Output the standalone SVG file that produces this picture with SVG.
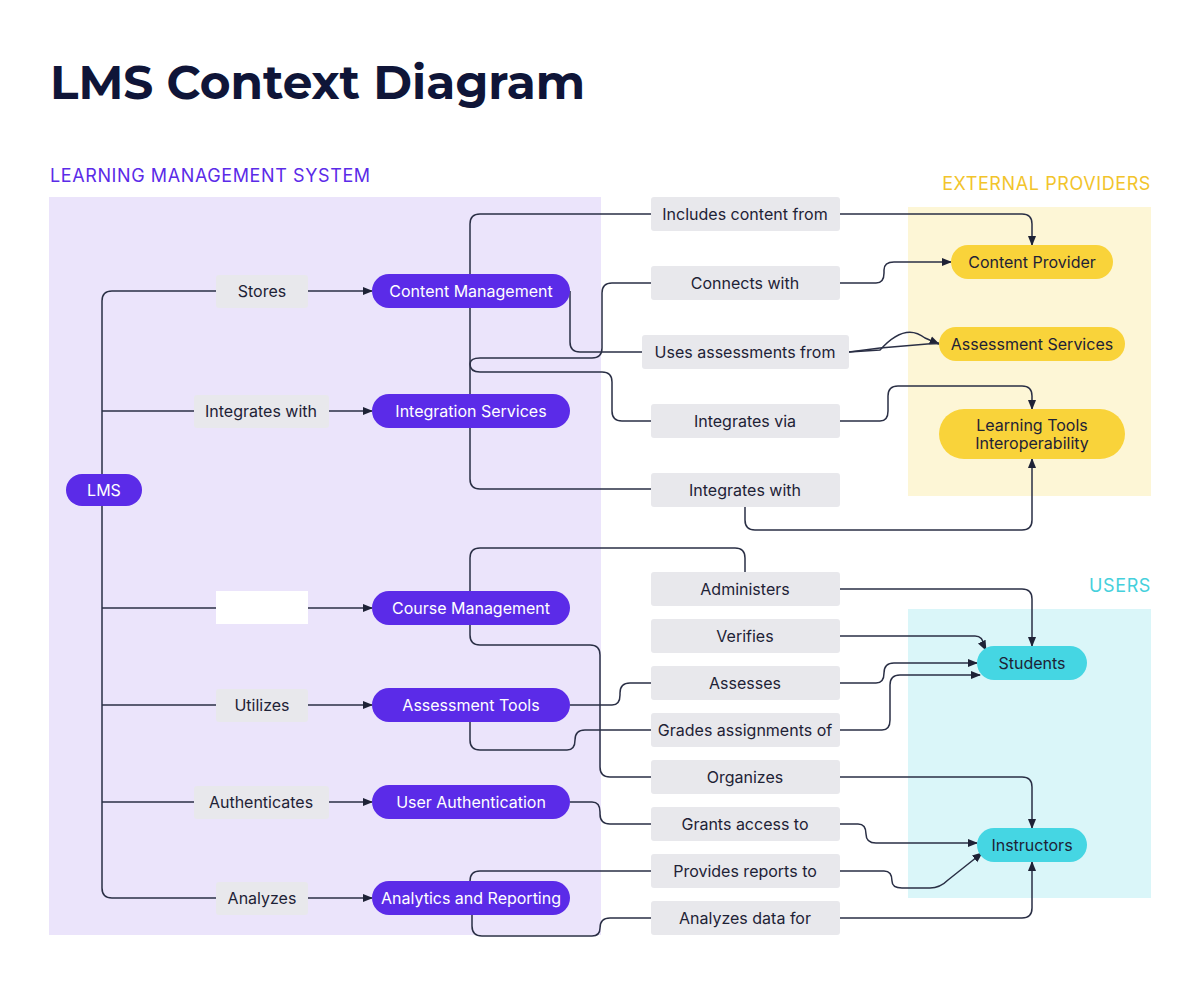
<svg xmlns="http://www.w3.org/2000/svg" width="1200" height="988" viewBox="0 0 1200 988">
<defs>
<marker id="ar" viewBox="0 0 10 10" refX="9" refY="5" markerWidth="7" markerHeight="7" orient="auto-start-reverse"><path d="M0,1 L10,5 L0,9 z" fill="#1e2236"/></marker>
<style>
text{font-family:Inter,"Noto Sans",sans-serif;}
.t{font-size:16px;fill:#1e2236;text-anchor:middle;dominant-baseline:central;}
.w{font-size:16px;fill:#fff;text-anchor:middle;dominant-baseline:central;}
.lb{fill:#e8e8ec;}
.pn{fill:#5b2be8;}
.yn{fill:#f9d33a;}
.cn{fill:#45d6e3;}
.c path{fill:none;stroke:#2a2f45;stroke-width:1.5;stroke-linejoin:round;}
.a{marker-end:url(#ar);}
</style>
</defs>
<rect width="1200" height="988" fill="#fff"/>
<text x="50" y="99" font-size="47" font-weight="700" fill="#0f1538" style="font-family:Montserrat,Inter,sans-serif">LMS Context Diagram</text>
<rect x="49" y="197" width="552" height="738" fill="#ebe4fb"/>
<text x="50" y="182" font-size="18" fill="#5b2be8" letter-spacing="0.6">LEARNING MANAGEMENT SYSTEM</text>
<rect x="908" y="207" width="243" height="289" fill="#fdf6d6"/>
<text x="1151" y="190" font-size="18" fill="#f2c42b" text-anchor="end" letter-spacing="0.6">EXTERNAL PROVIDERS</text>
<rect x="908" y="609" width="243" height="289" fill="#daf6f9"/>
<text x="1151" y="592" font-size="18" fill="#45d0dc" text-anchor="end" letter-spacing="0.6">USERS</text>
<g id="connectors" class="c">
<path d="M102,490 V301 Q102,291 112,291 H216"/>
<path class="a" d="M308,291 H372"/>
<path d="M102,490 V888 Q102,898 112,898 H216"/>
<path d="M102,411 H194"/><path class="a" d="M329,411 H372"/>
<path d="M102,608 H216"/><path class="a" d="M308,608 H372"/>
<path d="M102,705 H216"/><path class="a" d="M308,705 H372"/>
<path d="M102,802 H194"/><path class="a" d="M329,802 H372"/>
<path class="a" d="M308,898 H372"/>
<path d="M470,274 V224 Q470,214 480,214 H651"/>
<path class="a" d="M840,214 H1022 Q1032,214 1032,224 V245"/>
<path d="M470,308 V479 Q470,489 480,489 H651"/>
<path d="M651,283 H612 Q602,283 602,293 V348 Q602,358 592,358 H480 Q470,358 470,364 Q470,372 480,372 H602 Q612,372 612,382 V411 Q612,421 622,421 H651"/>
<path d="M570,291 V342 Q570,352 580,352 H642"/>
<path class="a" d="M840,283 H876 Q884,283 884,273 V270 Q884,262 894,262 H951"/>
<path class="a" d="M849,352 L880,350 Q905,322 925,338 L939,344"/>
<path d="M849,352 L880,348 L939,343"/>
<path class="a" d="M840,421 H880 Q888,421 888,411 V396 Q888,386 898,386 H1022 Q1032,386 1032,396 V409"/>
<path class="a" d="M745,507 V520 Q745,530 755,530 H1022 Q1032,530 1032,520 V459"/>
<path d="M470,591 V558 Q470,548 480,548 H735 Q745,548 745,558 V572"/>
<path d="M470,625 V635 Q470,645 480,645 H590 Q600,645 600,655 V767 Q600,777 610,777 H651"/>
<path class="a" d="M840,589 H1022 Q1032,589 1032,599 V646"/>
<path class="a" d="M840,636 H975 Q983,636 984,646 L986,650"/>
<path d="M570,705 H612 Q620,705 620,695 V693 Q620,683 630,683 H651"/>
<path class="a" d="M840,683 H876 Q884,683 884,673 Q884,663 894,663 H977"/>
<path d="M470,722 V740 Q470,750 480,750 H567 Q575,750 575,740 Q575,730 585,730 H651"/>
<path class="a" d="M840,730 H882 Q890,730 890,720 V685 Q890,675 900,675 H980"/>
<path class="a" d="M840,777 H1022 Q1032,777 1032,787 V828"/>
<path d="M570,802 H592 Q600,802 600,812 V814 Q600,824 610,824 H651"/>
<path class="a" d="M840,824 H858 Q866,824 866,834 Q866,843 876,843 H977"/>
<path d="M470,881 Q470,871 480,871 H651"/>
<path class="a" d="M840,871 H884 Q892,871 892,881 Q892,888 902,888 H930 Q940,888 948,880 L982,853"/>
<path d="M472,915 V926 Q472,936 482,936 H592 Q600,936 600,928 Q600,918 610,918 H651"/>
<path class="a" d="M840,918 H1022 Q1032,918 1032,908 V862"/>
</g>
<g id="lms"><rect x="66" y="474" width="76" height="32" rx="16" class="pn"/><text x="104" y="490" class="w">LMS</text></g>
<g id="lbl-stores"><rect x="216" y="275" width="92" height="33" rx="3" class="lb"/><text x="262" y="291" class="t">Stores</text></g>
<g id="lbl-integrates"><rect x="194" y="395" width="135" height="33" rx="3" class="lb"/><text x="261" y="411" class="t">Integrates with</text></g>
<g id="lbl-blank"><rect x="216" y="591" width="92" height="33" fill="#fff"/></g>
<g id="lbl-utilizes"><rect x="216" y="689" width="92" height="33" rx="3" class="lb"/><text x="262" y="705" class="t">Utilizes</text></g>
<g id="lbl-auth"><rect x="194" y="786" width="135" height="33" rx="3" class="lb"/><text x="261" y="802" class="t">Authenticates</text></g>
<g id="lbl-analyzes"><rect x="216" y="882" width="92" height="33" rx="3" class="lb"/><text x="262" y="898" class="t">Analyzes</text></g>
<g id="content-mgmt"><rect x="372" y="274" width="198" height="34" rx="17" class="pn"/><text x="471" y="291" class="w">Content Management</text></g>
<g id="integration"><rect x="372" y="394" width="198" height="34" rx="17" class="pn"/><text x="471" y="411" class="w">Integration Services</text></g>
<g id="course-mgmt"><rect x="372" y="591" width="198" height="34" rx="17" class="pn"/><text x="471" y="608" class="w">Course Management</text></g>
<g id="assessment-tools"><rect x="372" y="688" width="198" height="34" rx="17" class="pn"/><text x="471" y="705" class="w">Assessment Tools</text></g>
<g id="user-auth"><rect x="372" y="785" width="198" height="34" rx="17" class="pn"/><text x="471" y="802" class="w">User Authentication</text></g>
<g id="analytics"><rect x="372" y="881" width="198" height="34" rx="17" class="pn"/><text x="471" y="898" class="w">Analytics and Reporting</text></g>
<g id="m1"><rect x="651" y="197" width="189" height="34" rx="3" class="lb"/><text x="745" y="214" class="t">Includes content from</text></g>
<g id="m2"><rect x="651" y="266" width="189" height="34" rx="3" class="lb"/><text x="745" y="283" class="t">Connects with</text></g>
<g id="m3"><rect x="642" y="335" width="207" height="34" rx="3" class="lb"/><text x="745" y="352" class="t">Uses assessments from</text></g>
<g id="m4"><rect x="651" y="404" width="189" height="34" rx="3" class="lb"/><text x="745" y="421" class="t">Integrates via</text></g>
<g id="m5"><rect x="651" y="473" width="189" height="34" rx="3" class="lb"/><text x="745" y="490" class="t">Integrates with</text></g>
<g id="m6"><rect x="651" y="572" width="189" height="34" rx="3" class="lb"/><text x="745" y="589" class="t">Administers</text></g>
<g id="m7"><rect x="651" y="619" width="189" height="34" rx="3" class="lb"/><text x="745" y="636" class="t">Verifies</text></g>
<g id="m8"><rect x="651" y="666" width="189" height="34" rx="3" class="lb"/><text x="745" y="683" class="t">Assesses</text></g>
<g id="m9"><rect x="651" y="713" width="189" height="34" rx="3" class="lb"/><text x="745" y="730" class="t">Grades assignments of</text></g>
<g id="m10"><rect x="651" y="760" width="189" height="34" rx="3" class="lb"/><text x="745" y="777" class="t">Organizes</text></g>
<g id="m11"><rect x="651" y="807" width="189" height="34" rx="3" class="lb"/><text x="745" y="824" class="t">Grants access to</text></g>
<g id="m12"><rect x="651" y="854" width="189" height="34" rx="3" class="lb"/><text x="745" y="871" class="t">Provides reports to</text></g>
<g id="m13"><rect x="651" y="901" width="189" height="34" rx="3" class="lb"/><text x="745" y="918" class="t">Analyzes data for</text></g>
<g id="content-provider"><rect x="951" y="245" width="162" height="34" rx="17" class="yn"/><text x="1032" y="262" class="t">Content Provider</text></g>
<g id="assessment-services"><rect x="939" y="327" width="186" height="34" rx="17" class="yn"/><text x="1032" y="344" class="t">Assessment Services</text></g>
<g id="lti"><rect x="939" y="409" width="186" height="50" rx="25" class="yn"/><text x="1032" y="425" class="t">Learning Tools</text><text x="1032" y="443" class="t">Interoperability</text></g>
<g id="students"><rect x="977" y="646" width="110" height="34" rx="17" class="cn"/><text x="1032" y="663" class="t">Students</text></g>
<g id="instructors"><rect x="977" y="828" width="110" height="34" rx="17" class="cn"/><text x="1032" y="845" class="t">Instructors</text></g>
</svg>
